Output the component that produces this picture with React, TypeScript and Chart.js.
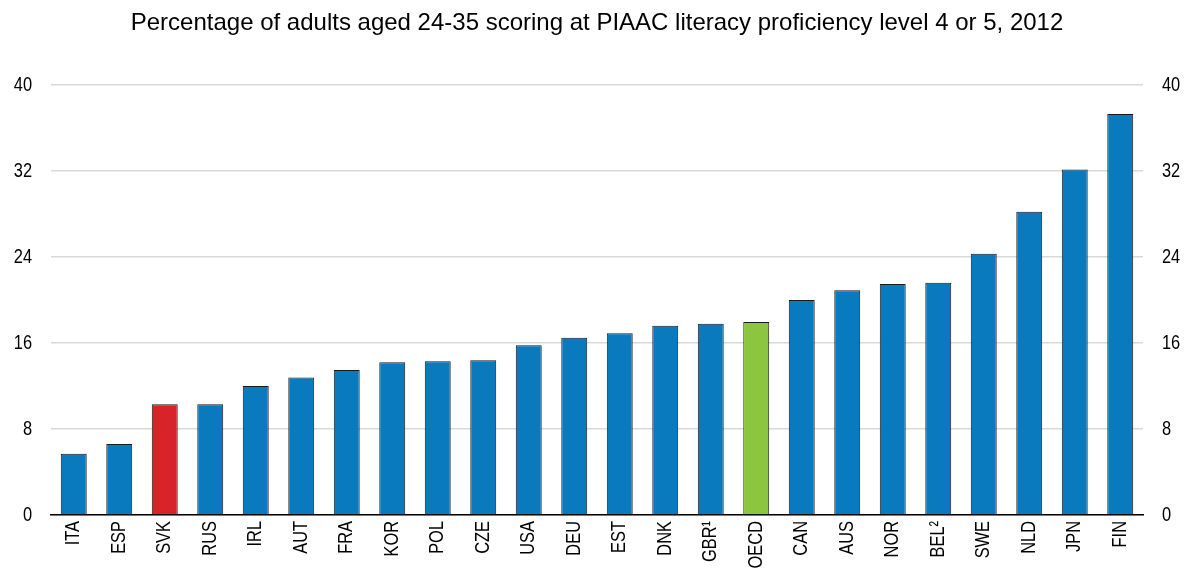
import React, { useEffect, useRef } from "react";
import { Chart, registerables } from "chart.js";

Chart.register(...registerables);

const categories = ["ITA", "ESP", "SVK", "RUS", "IRL", "AUT", "FRA", "KOR", "POL", "CZE", "USA", "DEU", "EST", "DNK", "GBR¹", "OECD", "CAN", "AUS", "NOR", "BEL²", "SWE", "NLD", "JPN", "FIN"];
const values = [5.7, 6.6, 10.3, 10.3, 12.0, 12.8, 13.5, 14.2, 14.3, 14.4, 15.8, 16.5, 16.9, 17.6, 17.8, 17.95, 20.0, 20.9, 21.5, 21.6, 24.3, 28.2, 32.15, 37.3];
const highlightRed = ["SVK"];
const highlightGreen = ["OECD"];
const yTicks = [0, 8, 16, 24, 32, 40];
const titleText = "Percentage of adults aged 24-35 scoring at PIAAC literacy proficiency level 4 or 5, 2012";

const BLUE = "#0a7abf";
const RED = "#d9232a";
const GREEN = "#8cc63f";
const FONT = "'Liberation Sans', Arial, sans-serif";
// tick font: Arimo marker (falls back to Liberation Sans), drawn condensed like Arial Narrow
const TICK_FONT = "Arimo, 'Liberation Sans', sans-serif";
const NARROW_RATIO = 0.82;

export default function App() {
  const ref = useRef<HTMLCanvasElement | null>(null);
  useEffect(() => {
    const canvas = ref.current;
    if (!canvas) return;
    const ctx = canvas.getContext("2d") as CanvasRenderingContext2D;
    const origFill = ctx.fillText.bind(ctx);
    (ctx as any).fillText = (text: string, x: number, y: number, maxWidth?: number) => {
      if (ctx.font.includes("Arimo")) {
        const w = ctx.measureText(text).width * NARROW_RATIO;
        const mw = maxWidth !== undefined ? Math.min(maxWidth, w) : w;
        return origFill(text, x, y, mw);
      }
      if (maxWidth !== undefined) return origFill(text, x, y, maxWidth);
      return origFill(text, x, y);
    };
    const colors = categories.map((c) =>
      highlightRed.includes(c) ? RED : highlightGreen.includes(c) ? GREEN : BLUE
    );
    const chart = new Chart(ctx, {
      type: "bar",
      data: {
        labels: categories,
        datasets: [
          {
            data: values,
            backgroundColor: colors,
            borderColor: "#1a1a1a",
            borderWidth: 1,
            barPercentage: 0.57,
            categoryPercentage: 1,
          },
        ],
      },
      options: {
        animation: false,
        responsive: false,
        maintainAspectRatio: false,
        layout: { padding: { top: 0, bottom: 0, left: 0, right: 0 } },
        plugins: {
          legend: { display: false },
          tooltip: { enabled: false },
          title: {
            display: true,
            fullSize: false,
            text: titleText,
            color: "#000",
            font: { family: FONT, size: 24, weight: "normal", lineHeight: 1.2 },
            padding: { top: 9, bottom: 47.2 },
          },
        },
        scales: {
          x: {
            grid: { display: false, drawTicks: false },
            border: { display: true, color: "#000", width: 1.5 },
            ticks: {
              color: "#000",
              font: { family: TICK_FONT, size: 20 },
              minRotation: 90,
              maxRotation: 90,
              padding: 6,
              autoSkip: false,
            },
            afterFit: (s: any) => {
              s.height = 56;
            },
          },
          y: {
            position: "left",
            min: 0,
            max: 40,
            afterBuildTicks: (s: any) => {
              s.ticks = yTicks.map((v) => ({ value: v }));
            },
            grid: { color: "#d9d9d9", lineWidth: 1.5, drawTicks: false },
            border: { display: false },
            ticks: {
              color: "#000",
              font: { family: TICK_FONT, size: 20 },
              padding: 19,
            },
            afterFit: (s: any) => {
              s.width = 51;
            },
          },
          y2: {
            position: "right",
            min: 0,
            max: 40,
            afterBuildTicks: (s: any) => {
              s.ticks = yTicks.map((v) => ({ value: v }));
            },
            grid: { display: false, drawTicks: false },
            border: { display: false },
            ticks: {
              color: "#000",
              font: { family: TICK_FONT, size: 20 },
              padding: 19,
            },
            afterFit: (s: any) => {
              s.width = 42;
            },
          },
        },
      },
    });
    return () => chart.destroy();
  }, []);
  return (
    <div style={{ position: "fixed", left: 0, top: 0, width: 1185, height: 571, background: "#fff" }}>
      <canvas ref={ref} width={1185} height={571} style={{ width: 1185, height: 571 }} />
    </div>
  );
}
